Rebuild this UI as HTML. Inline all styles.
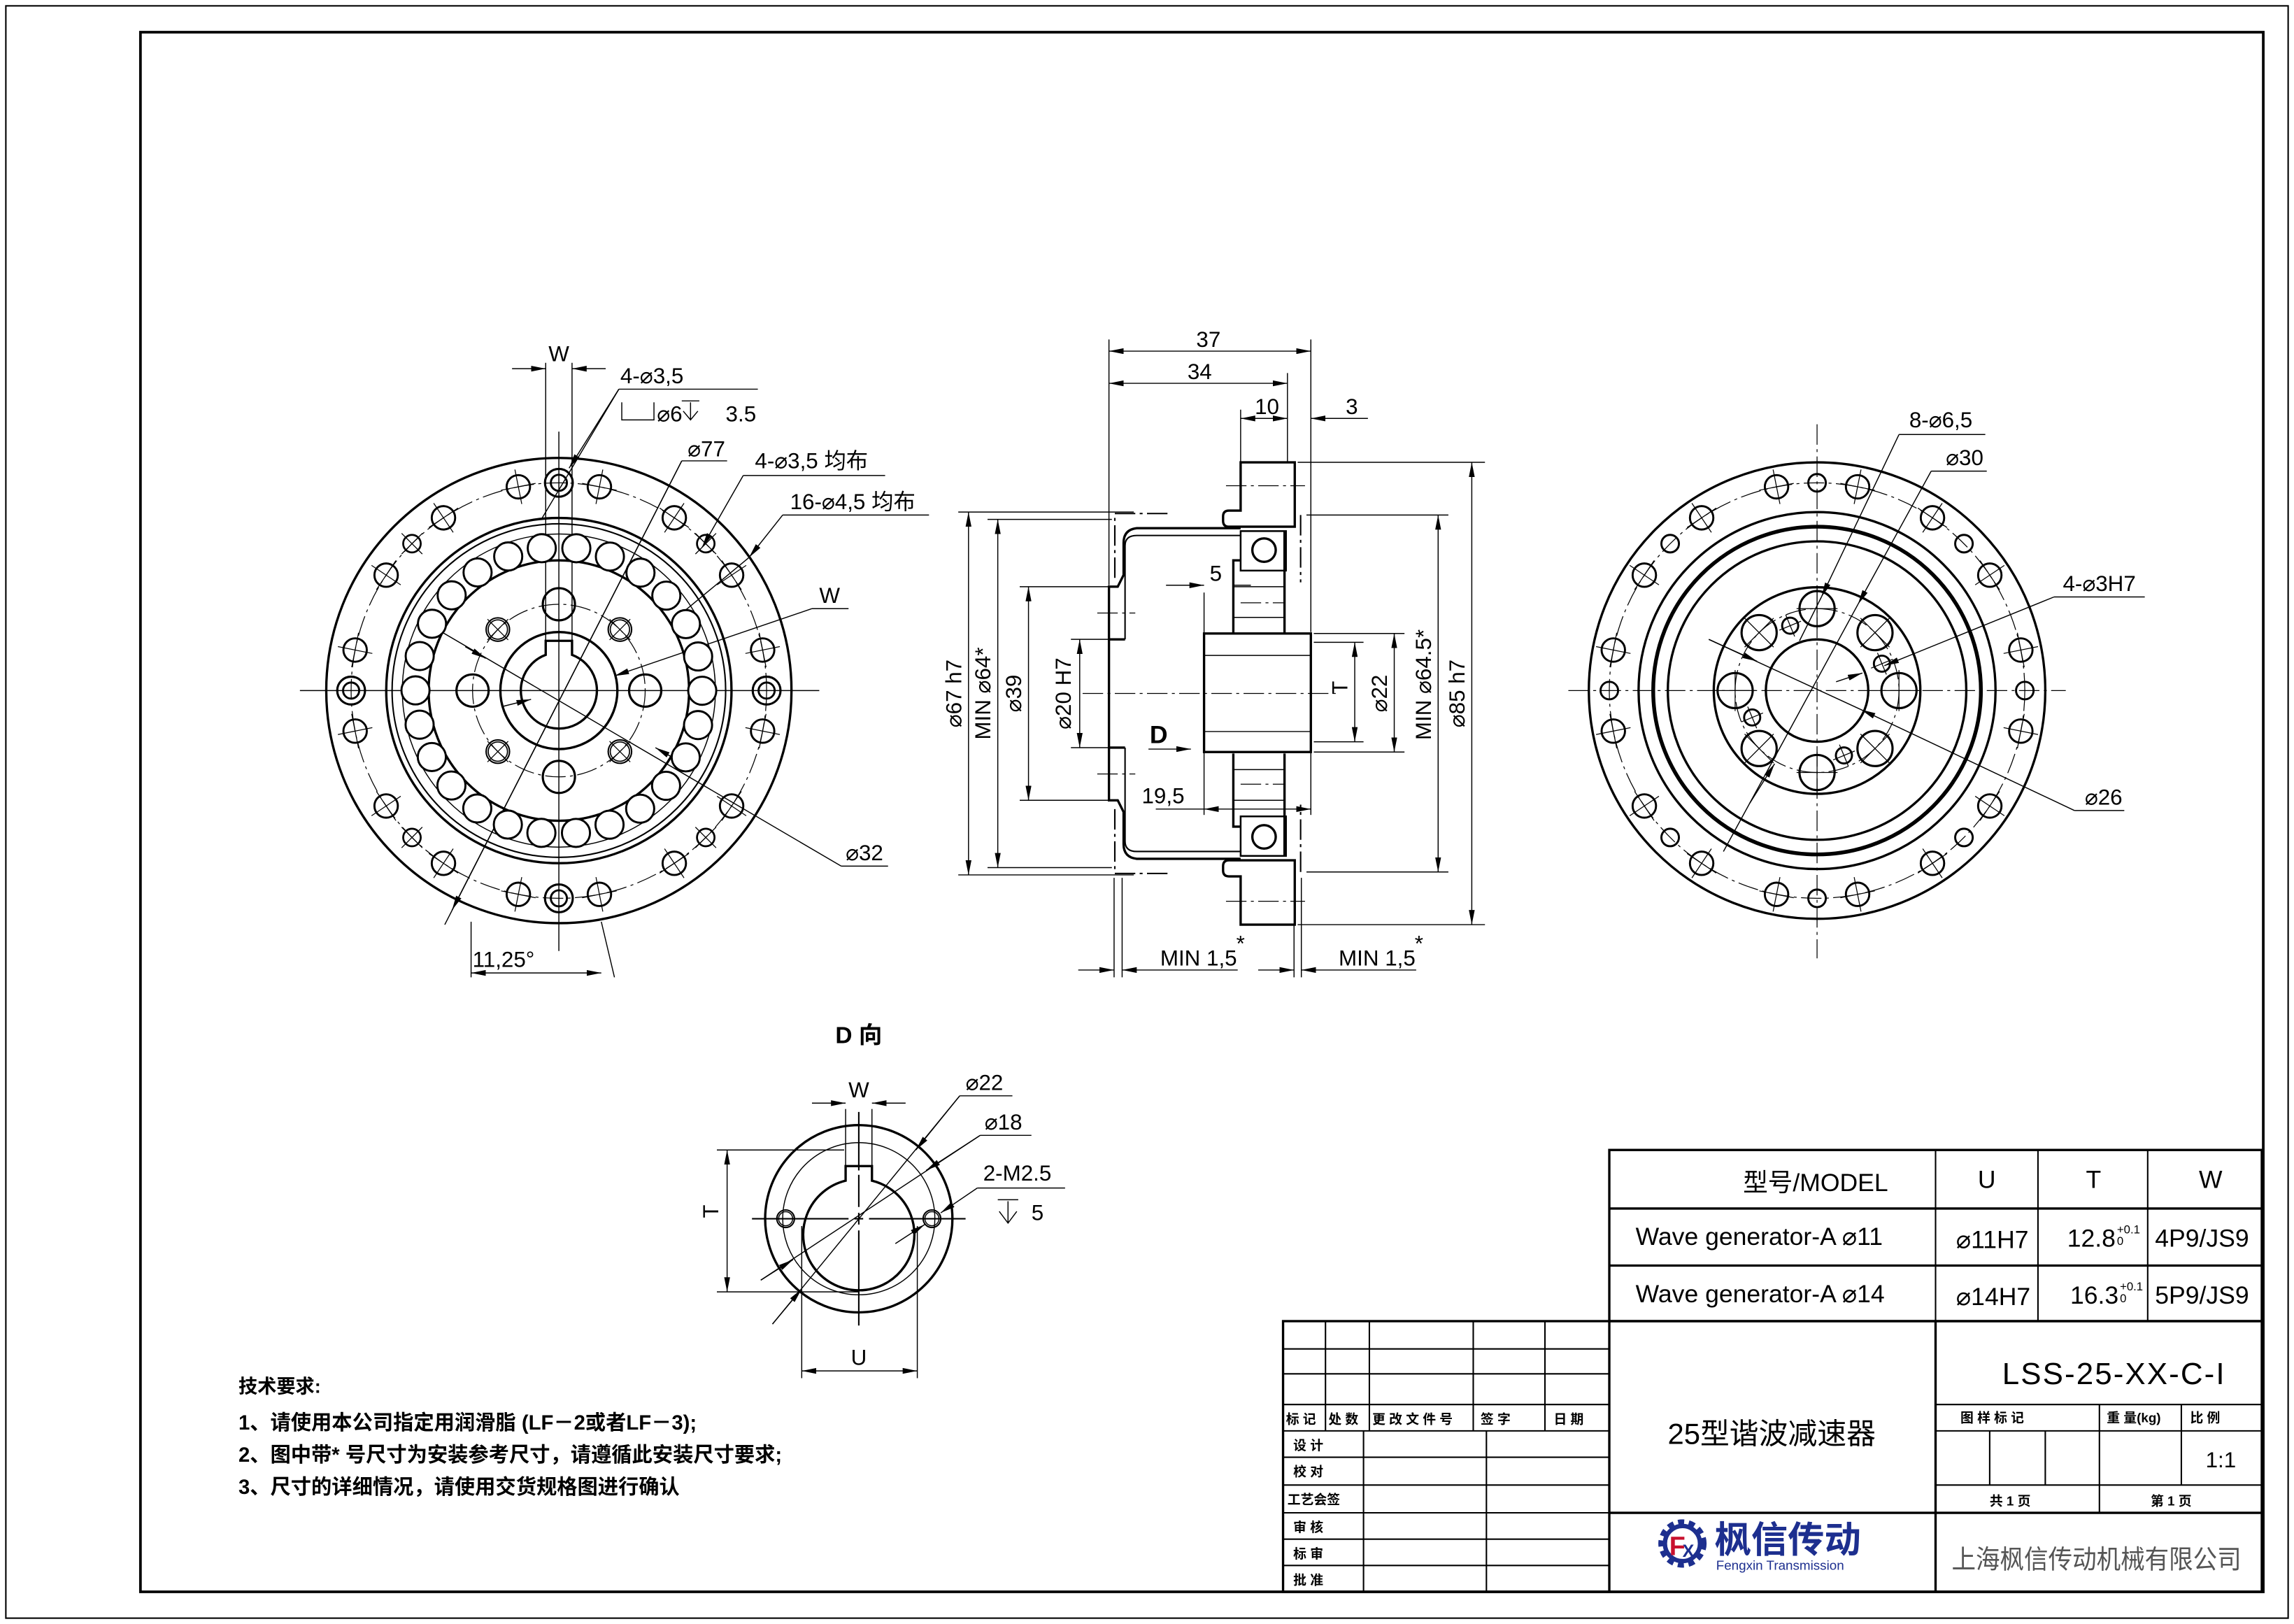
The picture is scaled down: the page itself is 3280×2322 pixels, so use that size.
<!DOCTYPE html>
<html><head><meta charset="utf-8">
<style>
html,body{margin:0;padding:0;background:#fff;}
svg{display:block;}
text{font-family:"Liberation Sans","Noto Sans CJK SC",sans-serif;fill:#000;}
.k{stroke:#000;stroke-width:1.6;fill:none;}
.t{stroke:#000;stroke-width:0.7;fill:none;}
.c{stroke:#000;stroke-width:0.6;fill:none;stroke-dasharray:14 3 2 3;}
.d{stroke:#000;stroke-width:0.7;fill:none;marker-start:url(#a);marker-end:url(#a);}
.e{stroke:#000;stroke-width:0.7;fill:none;marker-end:url(#a);}
</style></head><body>
<svg id="s" xmlns="http://www.w3.org/2000/svg" width="3280" height="2322" viewBox="0 0 1568 1110" preserveAspectRatio="none">
<defs>
<marker id="a" viewBox="0 0 10 4" refX="10" refY="2" markerWidth="10" markerHeight="4" markerUnits="userSpaceOnUse" orient="auto-start-reverse"><path d="M0,0 L10,2 L0,4 Z" fill="#000"/></marker>
</defs>
<rect x="0" y="0" width="1568" height="1110" fill="#fff"/>
<rect x="4" y="4" width="1560" height="1102" class="t" style="stroke-width:1"/>
<rect x="96" y="22" width="1451" height="1066" class="k" style="stroke-width:1.8"/>

<!-- LEFT VIEW -->
<g id="L">
<circle cx="382" cy="472" r="159" class="k"/>
<circle cx="382" cy="472" r="142" class="c"/>
<circle cx="382" cy="472" r="118" class="k"/>
<circle cx="382" cy="472" r="114" class="k" style="stroke-width:1"/>
<circle cx="382" cy="472" r="107" class="t"/>
<circle cx="382" cy="472" r="89" class="k"/>
<circle cx="382" cy="472" r="59" class="c"/>
<circle cx="382" cy="472" r="40" class="k"/>
<path d="M373,447.6 V438 H391 V447.6 A26,26 0 1 1 373,447.6 Z" class="k"/>
<line x1="205" y1="472" x2="560" y2="472" class="t"/>
<line x1="382" y1="295" x2="382" y2="650" class="t"/>
</g>

<!-- MIDDLE SECTION -->
<g id="Mt">
<path d="M848,316 H885 V360 H840 Q836,360 836,356 V353 Q836,349 840,349 H848 Z" class="k"/>
<line x1="838" y1="332" x2="892" y2="332" class="c"/>
<path d="M758,474 V401 H764 L768,393 V371 Q768,362 777,361 H848" class="k"/>
<path d="M769,437 V373 Q769,366 777,366 H848" class="k" style="stroke-width:1"/>
<line x1="758" y1="437" x2="769" y2="437" class="k"/>
<line x1="750" y1="419" x2="776" y2="419" class="c"/>
<path d="M843,433 V383 H848 M878,433 V363" class="k"/>
<rect x="848" y="363" width="31" height="27" class="k" style="stroke-width:1.2"/>
<circle cx="864" cy="376" r="8" class="k"/>
<line x1="843" y1="401" x2="878" y2="401" class="t"/>
<line x1="843" y1="422" x2="878" y2="422" class="t"/>
<line x1="848" y1="412" x2="878" y2="412" class="c"/>
<path d="M762,395 V351 H800" class="c" style="stroke-width:1"/>
<line x1="889" y1="352" x2="889" y2="398" class="c" style="stroke-width:1"/>
</g>
<use href="#Mt" transform="translate(0,948) scale(1,-1)"/>
<rect x="823" y="433" width="73" height="81" class="k"/>
<line x1="823" y1="448" x2="896" y2="448" class="t"/>
<line x1="823" y1="500" x2="896" y2="500" class="t"/>
<line x1="740" y1="474" x2="915" y2="474" class="c"/>

<!-- middle dims -->
<g>
<line x1="758" y1="232" x2="758" y2="400" class="t"/>
<line x1="896" y1="232" x2="896" y2="432" class="t"/>
<line x1="880" y1="255" x2="880" y2="316" class="t"/>
<line x1="848" y1="280" x2="848" y2="316" class="t"/>
<line class="d" x1="758" y1="240" x2="896" y2="240"/>
<text x="826" y="237" font-size="15" text-anchor="middle">37</text>
<line class="d" x1="758" y1="262" x2="880" y2="262"/>
<text x="820" y="259" font-size="15" text-anchor="middle">34</text>
<line class="d" x1="848" y1="286" x2="880" y2="286"/>
<text x="866" y="283" font-size="15" text-anchor="middle">10</text>
<line class="e" x1="935" y1="286" x2="896" y2="286"/>
<text x="924" y="283" font-size="15" text-anchor="middle">3</text>

<line x1="655" y1="350" x2="775" y2="350" class="t"/>
<line x1="655" y1="598" x2="775" y2="598" class="t"/>
<line x1="675" y1="355" x2="760" y2="355" class="t"/>
<line x1="675" y1="593" x2="760" y2="593" class="t"/>
<line class="d" x1="662" y1="350" x2="662" y2="598"/>
<line class="d" x1="682" y1="355" x2="682" y2="593"/>
<text transform="translate(657,474) rotate(-90)" font-size="15" text-anchor="middle">⌀67 h7</text>
<text transform="translate(677,474) rotate(-90)" font-size="15" text-anchor="middle">MIN ⌀64*</text>
<line x1="697" y1="401" x2="758" y2="401" class="t"/>
<line x1="697" y1="547" x2="758" y2="547" class="t"/>
<line class="d" x1="703" y1="401" x2="703" y2="547"/>
<text transform="translate(698,474) rotate(-90)" font-size="15" text-anchor="middle">⌀39</text>
<line x1="732" y1="437" x2="758" y2="437" class="t"/>
<line x1="732" y1="511" x2="758" y2="511" class="t"/>
<line class="d" x1="738" y1="437" x2="738" y2="511"/>
<text transform="translate(732,474) rotate(-90)" font-size="15" text-anchor="middle">⌀20 H7</text>

<line x1="898" y1="433" x2="960" y2="433" class="t"/>
<line x1="898" y1="514" x2="960" y2="514" class="t"/>
<line x1="898" y1="439" x2="932" y2="439" class="t"/>
<line x1="898" y1="507" x2="932" y2="507" class="t"/>
<line class="d" x1="926" y1="439" x2="926" y2="507"/>
<text transform="translate(921,470) rotate(-90)" font-size="15" text-anchor="middle">T</text>
<line class="d" x1="953" y1="433" x2="953" y2="514"/>
<text transform="translate(948,474) rotate(-90)" font-size="15" text-anchor="middle">⌀22</text>
<line x1="893" y1="352" x2="990" y2="352" class="t"/>
<line x1="893" y1="596" x2="990" y2="596" class="t"/>
<line class="d" x1="983" y1="352" x2="983" y2="596"/>
<text transform="translate(978,468) rotate(-90)" font-size="15" text-anchor="middle">MIN ⌀64.5*</text>
<line x1="887" y1="316" x2="1015" y2="316" class="t"/>
<line x1="887" y1="632" x2="1015" y2="632" class="t"/>
<line class="d" x1="1006" y1="316" x2="1006" y2="632"/>
<text transform="translate(1001,474) rotate(-90)" font-size="15" text-anchor="middle">⌀85 h7</text>

<line class="e" x1="797" y1="400" x2="823" y2="400"/>
<line x1="843" y1="400" x2="855" y2="400" class="t"/>
<line x1="823" y1="405" x2="823" y2="433" class="t"/>
<text x="831" y="397" font-size="15" text-anchor="middle">5</text>
<line class="d" x1="823" y1="553" x2="896" y2="553"/>
<line x1="790" y1="553" x2="823" y2="553" class="t"/>
<line x1="823" y1="514" x2="823" y2="557" class="t"/>
<line x1="896" y1="514" x2="896" y2="557" class="t"/>
<text x="795" y="549" font-size="15" text-anchor="middle">19,5</text>
<line class="e" x1="785" y1="512" x2="814" y2="512"/>
<text x="792" y="508" font-size="17" font-weight="bold" text-anchor="middle">D</text>

<line x1="761.5" y1="600" x2="761.5" y2="668" class="t"/>
<line x1="767" y1="600" x2="767" y2="668" class="t"/>
<line x1="884.5" y1="632" x2="884.5" y2="668" class="t"/>
<line x1="889.5" y1="600" x2="889.5" y2="668" class="t"/>
<line class="e" x1="737" y1="663" x2="761.5" y2="663"/>
<line class="e" x1="846" y1="663" x2="767" y2="663"/>
<line class="e" x1="860" y1="663" x2="884.5" y2="663"/>
<line class="e" x1="968" y1="663" x2="889.5" y2="663"/>
<text x="793" y="660" font-size="15">MIN  1,5</text><text x="845" y="650" font-size="15">*</text>
<text x="915" y="660" font-size="15">MIN  1,5</text><text x="967" y="650" font-size="15">*</text>
</g>

<!-- RIGHT VIEW -->
<g id="R">
<circle cx="1242" cy="472" r="156" class="k"/>
<circle cx="1242" cy="472" r="142" class="c"/>
<circle cx="1242" cy="472" r="122" class="k"/>
<circle cx="1242" cy="472" r="112" class="k" style="stroke-width:2.6"/>
<circle cx="1242" cy="472" r="102" class="k"/>
<circle cx="1242" cy="472" r="70.6" class="k"/>
<circle cx="1242" cy="472" r="56" class="c"/>
<circle cx="1242" cy="472" r="35" class="k"/>
<line x1="1072" y1="472" x2="1412" y2="472" class="c"/>
<line x1="1242" y1="290" x2="1242" y2="655" class="c"/>
</g>

<!-- left view annotations -->
<g>
<line x1="373" y1="248" x2="373" y2="440" class="t"/>
<line x1="391" y1="248" x2="391" y2="440" class="t"/>
<line class="e" x1="350" y1="252" x2="373" y2="252"/>
<line class="e" x1="414" y1="252" x2="391" y2="252"/>
<text x="382" y="247" font-size="15" text-anchor="middle">W</text>
<text x="424" y="262" font-size="15">4-⌀3,5</text>
<line x1="423" y1="266" x2="518" y2="266" class="t"/>
<path d="M423,266 L370,355" class="t"/>
<line class="e" x1="423" y1="266" x2="389" y2="320"/>
<path d="M425,275 V287 H447 V275" class="t"/>
<text x="449" y="288" font-size="15">⌀6</text>
<path d="M466,274 H478 M472,275 V287 M467,281 L472,287 L477,281" class="t"/>
<text x="496" y="288" font-size="15">3.5</text>
<text x="470" y="312" font-size="15">⌀77</text>
<line x1="466" y1="315" x2="497" y2="315" class="t"/>
<line class="e" x1="466" y1="315" x2="309" y2="622"/>
<line x1="466" y1="315" x2="304" y2="632" class="t"/>
<text x="516" y="320" font-size="15">4-⌀3,5 均布</text>
<line x1="508" y1="325" x2="605" y2="325" class="t"/>
<line class="e" x1="508" y1="325" x2="480" y2="374"/>
<text x="540" y="348" font-size="15">16-⌀4,5 均布</text>
<line x1="535" y1="352" x2="635" y2="352" class="t"/>
<line class="e" x1="535" y1="352" x2="512" y2="381"/>
<line x1="512" y1="381" x2="465" y2="420" class="t"/>
<text x="560" y="412" font-size="15">W</text>
<line x1="555" y1="416" x2="580" y2="416" class="t"/>
<line x1="555" y1="416" x2="420" y2="462" class="e"/>
<line x1="343" y1="483" x2="363" y2="478" class="e"/>
<text x="578" y="588" font-size="15">⌀32</text>
<line x1="575" y1="592" x2="607" y2="592" class="t"/>
<line x1="575" y1="592" x2="302" y2="432" class="t"/>
<line class="e" x1="318" y1="442" x2="332" y2="450"/>
<line class="e" x1="462" y1="519" x2="448" y2="511"/>
<line x1="322" y1="630" x2="322" y2="668" class="t"/>
<line x1="411" y1="630" x2="420" y2="668" class="t"/>
<line class="e" x1="322" y1="665" x2="411" y2="665" style="marker-start:url(#a)"/>
<text x="323" y="661" font-size="15">11,25°</text>
</g>

<!-- right view annotations -->
<g>
<text x="1305" y="292" font-size="15">8-⌀6,5</text>
<line x1="1298" y1="297" x2="1357" y2="297" class="t"/>
<line class="e" x1="1298" y1="297" x2="1245" y2="408"/>
<line x1="1245" y1="408" x2="1230" y2="438" class="t"/>
<text x="1330" y="318" font-size="15">⌀30</text>
<line x1="1320" y1="322" x2="1358" y2="322" class="t"/>
<line class="e" x1="1320" y1="322" x2="1270" y2="413"/>
<line x1="1270" y1="413" x2="1178" y2="582" class="t"/>
<line class="e" x1="1196" y1="549" x2="1213" y2="522"/>
<text x="1410" y="404" font-size="15">4-⌀3H7</text>
<line x1="1404" y1="408" x2="1466" y2="408" class="t"/>
<line class="e" x1="1404" y1="408" x2="1288" y2="455"/>
<line class="e" x1="1255" y1="466" x2="1273" y2="460"/>
<text x="1425" y="550" font-size="15">⌀26</text>
<line x1="1418" y1="554" x2="1452" y2="554" class="t"/>
<line class="e" x1="1418" y1="554" x2="1272" y2="485"/>
<line x1="1272" y1="485" x2="1168" y2="437" class="t"/>
<line class="e" x1="1168" y1="437" x2="1201" y2="452"/>
</g>

<!-- D VIEW -->
<g>
<text x="587" y="713" font-size="16" font-weight="bold" text-anchor="middle">D 向</text>
<circle cx="587" cy="833" r="64" class="k"/>
<circle cx="587" cy="833" r="52" class="t"/>
<path d="M578,797 V807 A38,38 0 1 0 596,807 V797 Z" class="k"/>
<circle cx="537" cy="833" r="6" class="k" style="stroke-width:1"/><circle cx="537" cy="833" r="4.8" class="t"/>
<circle cx="637" cy="833" r="6" class="k" style="stroke-width:1"/><circle cx="637" cy="833" r="4.8" class="t"/>
<path d="M514,833 H580 M584,833 H590 M594,833 H660 M587,760 V800 M587,803 V825 M587,829 V837 M587,841 V906" class="t" style="stroke-width:1"/>
<line x1="578" y1="758" x2="578" y2="797" class="t"/>
<line x1="596" y1="758" x2="596" y2="797" class="t"/>
<line class="e" x1="555" y1="754" x2="578" y2="754"/>
<line class="e" x1="619" y1="754" x2="596" y2="754"/>
<text x="587" y="750" font-size="15" text-anchor="middle">W</text>
<line x1="490" y1="786" x2="577" y2="786" class="t"/>
<line x1="490" y1="883" x2="587" y2="883" class="t"/>
<line class="d" x1="497" y1="786" x2="497" y2="883"/>
<text transform="translate(491,828) rotate(-90)" font-size="15" text-anchor="middle">T</text>
<line x1="548" y1="838" x2="548" y2="942" class="t"/>
<line x1="627" y1="838" x2="627" y2="942" class="t"/>
<line class="d" x1="548" y1="937" x2="627" y2="937"/>
<text x="587" y="933" font-size="15" text-anchor="middle">U</text>
<text x="660" y="745" font-size="15">⌀22</text>
<line x1="656" y1="749" x2="692" y2="749" class="t"/>
<line x1="656" y1="749" x2="528" y2="905" class="t"/>
<line class="e" x1="656" y1="749" x2="626" y2="786"/>
<line class="e" x1="528" y1="905" x2="548" y2="881"/>
<text x="673" y="772" font-size="15">⌀18</text>
<line x1="670" y1="776" x2="705" y2="776" class="t"/>
<line x1="670" y1="776" x2="520" y2="875" class="t"/>
<line class="e" x1="670" y1="776" x2="633" y2="800"/>
<line class="e" x1="520" y1="875" x2="542" y2="861"/>
<text x="672" y="807" font-size="15">2-M2.5</text>
<line x1="668" y1="812" x2="728" y2="812" class="t"/>
<line class="e" x1="668" y1="812" x2="643" y2="829"/>
<line class="e" x1="612" y1="850" x2="632" y2="837"/>
<path d="M682,820 H696 M689,821 V836 M683,828 L689,836 L695,828" class="t"/>
<text x="705" y="834" font-size="15">5</text>
</g>

<!-- notes -->
<g font-weight="bold">
<text x="163" y="952" font-size="13">技术要求:</text>
<text x="163" y="977" font-size="14">1、请使用本公司指定用润滑脂 (LF－2或者LF－3);</text>
<text x="163" y="999" font-size="14">2、图中带* 号尺寸为安装参考尺寸，请遵循此安装尺寸要求;</text>
<text x="163" y="1021" font-size="14">3、尺寸的详细情况，请使用交货规格图进行确认</text>
</g>

<!-- TITLE BLOCK -->
<g>
<rect x="1100" y="786" width="446" height="117" class="k"/>
<line x1="1100" y1="826" x2="1546" y2="826" class="k"/>
<line x1="1100" y1="865" x2="1546" y2="865" class="k"/>
<line x1="1323" y1="786" x2="1323" y2="903" class="k" style="stroke-width:1"/>
<line x1="1393" y1="786" x2="1393" y2="903" class="k" style="stroke-width:1"/>
<line x1="1468" y1="786" x2="1468" y2="903" class="k" style="stroke-width:1"/>
<text x="1241" y="814" font-size="17" text-anchor="middle">型号/MODEL</text>
<text x="1358" y="812" font-size="17" text-anchor="middle">U</text>
<text x="1431" y="812" font-size="17" text-anchor="middle">T</text>
<text x="1511" y="812" font-size="17" text-anchor="middle">W</text>
<text x="1118" y="851" font-size="17">Wave generator-A ⌀11</text>
<text x="1118" y="890" font-size="17">Wave generator-A ⌀14</text>
<text x="1337" y="853" font-size="17">⌀11H7</text>
<text x="1337" y="892" font-size="17">⌀14H7</text>
<text x="1413" y="852" font-size="17">12.8</text><text x="1447" y="843" font-size="8">+0.1</text><text x="1447" y="851" font-size="8">0</text>
<text x="1415" y="891" font-size="17">16.3</text><text x="1449" y="882" font-size="8">+0.1</text><text x="1449" y="890" font-size="8">0</text>
<text x="1473" y="852" font-size="17">4P9/JS9</text>
<text x="1473" y="891" font-size="17">5P9/JS9</text>

<rect x="877" y="903" width="669" height="185" class="k"/>
<line x1="1100" y1="903" x2="1100" y2="1088" class="k"/>
<line x1="1323" y1="903" x2="1323" y2="1088" class="k"/>
<line x1="1100" y1="1034" x2="1546" y2="1034" class="k"/>
<g class="k" style="stroke-width:1">
<line x1="877" y1="922" x2="1100" y2="922"/><line x1="877" y1="939" x2="1100" y2="939"/>
<line x1="877" y1="960" x2="1100" y2="960"/><line x1="877" y1="978" x2="1100" y2="978"/>
<line x1="877" y1="996" x2="1100" y2="996"/><line x1="877" y1="1015" x2="1100" y2="1015"/>
<line x1="877" y1="1034" x2="1100" y2="1034"/><line x1="877" y1="1052" x2="1100" y2="1052"/>
<line x1="877" y1="1070" x2="1100" y2="1070"/>
<line x1="906" y1="903" x2="906" y2="978"/><line x1="936" y1="903" x2="936" y2="978"/>
<line x1="1007" y1="903" x2="1007" y2="978"/><line x1="1056" y1="903" x2="1056" y2="978"/>
<line x1="932" y1="978" x2="932" y2="1088"/><line x1="1016" y1="978" x2="1016" y2="1088"/>
<line x1="1323" y1="960" x2="1546" y2="960"/><line x1="1323" y1="978" x2="1546" y2="978"/>
<line x1="1323" y1="1015" x2="1546" y2="1015"/>
<line x1="1435" y1="960" x2="1435" y2="1034"/><line x1="1491" y1="960" x2="1491" y2="1015"/>
<line x1="1360" y1="978" x2="1360" y2="1015"/><line x1="1398" y1="978" x2="1398" y2="1015"/>
</g>
<g font-size="9" font-weight="bold">
<text x="879" y="973">标 记</text><text x="908" y="973">处 数</text><text x="938" y="973">更 改 文 件 号</text>
<text x="1012" y="973">签    字</text><text x="1062" y="973">日    期</text>
<text x="884" y="991">设    计</text><text x="884" y="1009">校    对</text><text x="880" y="1028">工艺会签</text>
<text x="884" y="1047">审    核</text><text x="884" y="1065">标    审</text><text x="884" y="1083">批    准</text>
<text x="1340" y="972">图  样  标  记</text><text x="1440" y="972">重 量(kg)</text><text x="1497" y="972">比    例</text>
<text x="1360" y="1029">共  1  页</text><text x="1470" y="1029">第  1  页</text>
</g>
<text x="1211" y="987" font-size="20" text-anchor="middle">25型谐波减速器</text>
<text x="1445" y="946" font-size="21" text-anchor="middle" letter-spacing="1">LSS-25-XX-C-I</text>
<text x="1518" y="1003" font-size="15" text-anchor="middle">1:1</text>
<text x="1334" y="1072" font-size="18" textLength="198" lengthAdjust="spacingAndGlyphs" style="fill:#555">上海枫信传动机械有限公司</text>
<g>
<circle cx="1150" cy="1055" r="14" fill="none" stroke="#1d2f8f" stroke-width="5" stroke-dasharray="4 3"/>
<circle cx="1150" cy="1055" r="12" fill="none" stroke="#1d2f8f" stroke-width="3"/>
<text x="1141" y="1063" font-size="18" font-weight="bold" style="fill:#c8102e">F</text>
<text x="1150" y="1064" font-size="12" font-weight="bold" style="fill:#1d2f8f">X</text>
<text x="1172" y="1061" font-size="25" font-weight="bold" style="fill:#1d2f8f">枫信传动</text>
<text x="1173" y="1073" font-size="9" style="fill:#1d2f8f">Fengxin Transmission</text>
</g>
</g>
</svg>
<script>
(function(){
var s=document.getElementById('s'),N='http://www.w3.org/2000/svg';
function C(cx,cy,r,w){var e=document.createElementNS(N,'circle');e.setAttribute('cx',cx);e.setAttribute('cy',cy);e.setAttribute('r',r);e.setAttribute('fill','none');e.setAttribute('stroke','#000');e.setAttribute('stroke-width',w||1.4);s.appendChild(e);return e;}
function Lx(x1,y1,x2,y2){var e=document.createElementNS(N,'line');e.setAttribute('x1',x1);e.setAttribute('y1',y1);e.setAttribute('x2',x2);e.setAttribute('y2',y2);e.setAttribute('stroke','#000');e.setAttribute('stroke-width',0.6);s.appendChild(e);}
function P(cx,cy,r,a){a=a*Math.PI/180;return [cx+r*Math.sin(a),cy-r*Math.cos(a)];}
function cross(x,y,r,a){a=a*Math.PI/180;var c=Math.cos(a),sn=Math.sin(a),L=r+4;Lx(x-L*c,y-L*sn,x+L*c,y+L*sn);Lx(x+L*sn,y-L*c,x-L*sn,y+L*c);}
var i,p,aa;
for(i=0;i<26;i++){p=P(382,472,98,i*360/26+7);var e=C(p[0],p[1],9.6,1.4);e.setAttribute('fill','#fff');}
for(i=0;i<16;i++){aa=[11.25,33.75,56.25,78.75][i%4]+90*Math.floor(i/4);p=P(382,472,142,aa);C(p[0],p[1],8,1.4);cross(p[0],p[1],8,aa);}
for(i=0;i<4;i++){p=P(382,472,142,45+90*i);C(p[0],p[1],6,1.3);cross(p[0],p[1],6,45);}
for(i=0;i<4;i++){p=P(382,472,142,90*i);C(p[0],p[1],9.5,1.5);C(p[0],p[1],5.5,1.4);}
for(i=0;i<4;i++){p=P(382,472,59,90*i);C(p[0],p[1],11,1.5);}
for(i=0;i<4;i++){p=P(382,472,59,45+90*i);C(p[0],p[1],8,1);C(p[0],p[1],6.6,0.8);cross(p[0],p[1],6,45);}
for(i=0;i<16;i++){aa=[11.25,33.75,56.25,78.75][i%4]+90*Math.floor(i/4);p=P(1242,472,142,aa);C(p[0],p[1],8,1.4);cross(p[0],p[1],8,aa);}
for(i=0;i<8;i++){p=P(1242,472,142,45*i);C(p[0],p[1],6,1.4);}
for(i=0;i<8;i++){p=P(1242,472,56,45*i);C(p[0],p[1],12,1.5);cross(p[0],p[1],10,45*i);}
for(i=0;i<4;i++){p=P(1242,472,48,-22.5+90*i);C(p[0],p[1],5.5,1.4);cross(p[0],p[1],4,-22.5);}
})();
</script>
</body></html>
